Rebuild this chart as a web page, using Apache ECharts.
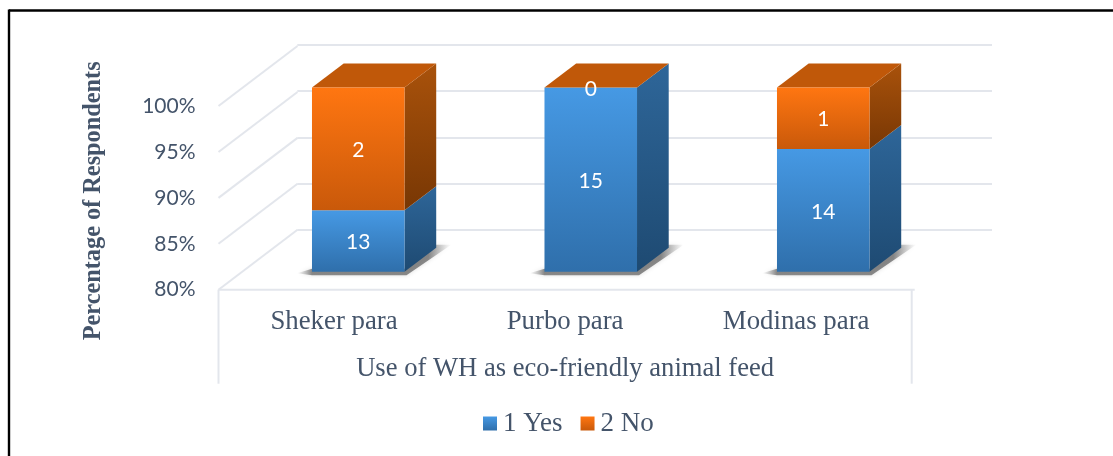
<!DOCTYPE html>
<html><head><meta charset="utf-8">
<style>html,body{margin:0;padding:0;background:#fff}#c{width:1113px;height:456px}</style>
<script src="https://cdn.jsdelivr.net/npm/echarts@6/dist/echarts.min.js"></script>
</head><body><div id="c"></div>
<script>
const categories = ['Sheker para', 'Purbo para', 'Modinas para'];
const yesCounts = [13, 15, 14];
const noCounts = [2, 0, 1];
const axisTicks = [80, 85, 90, 95, 100];
const xAxisTitle = 'Use of WH as eco-friendly animal feed';
const yAxisTitle = 'Percentage of Respondents';

const textColor = '#44546a', gridColor = '#e3e6ec';
const DX = 31.7, DY = 24, BAR = 0.398;
const lin = (a, b, x2, y2) => ({type: 'linear', x: 0, y: 0, x2: x2 || 0, y2: y2 === undefined ? 1 : y2,
  colorStops: [{offset: 0, color: a}, {offset: 1, color: b}]});
const blue = {front: lin('#4699e4', '#2f6fab'), side: lin('#2e6699', '#1e4a72'), top: '#2e6699'};
const orange = {front: lin('#ff7611', '#c9590a'), side: lin('#a9520b', '#783704'), top: '#c05809'};

const pct = (n, i) => n / (yesCounts[i] + noCounts[i]) * 100;
const yesData = categories.map((c, i) => [i, 0, pct(yesCounts[i], i), yesCounts[i]]);
const noData = categories.map((c, i) => [i, pct(yesCounts[i], i), 100, noCounts[i]]);

function poly(points, fill, extra) {
  return Object.assign({type: 'polygon', shape: {points}, style: {fill}}, extra || {});
}
function barItem(palette, drawTop, drawShadow) {
  return function (params, api) {
    const i = api.value(0), cs = params.coordSys;
    const w = api.size([1, 0])[0] * BAR, cx = api.coord([i, 80])[0];
    const x0 = cx - w / 2, x1 = cx + w / 2;
    const floor = cs.y + cs.height;
    const y0 = Math.min(api.coord([i, Math.max(api.value(1), 80)])[1], floor);
    const y1 = api.coord([i, api.value(2)])[1];
    const kids = [];
    if (drawShadow) {
      const span = w + DX + 30;
      const shade = 'rgba(70,70,70,0.6)', clear = 'rgba(120,120,120,0)';
      const fade = {type: 'linear', x: 0, y: 0, x2: 1, y2: 0, colorStops: [
        {offset: 0, color: clear}, {offset: 15 / span, color: shade},
        {offset: (15 + w + DX - 8) / span, color: shade}, {offset: 1, color: clear}]};
      kids.push({type: 'polygon',
        shape: {points: [[x0 - 15, y0 + 1.5], [x0, y0 + 3.5], [x1 + 2, y0 + 3.5], [x1 + DX + 15, y0 - DY - 3],
          [x1 + DX, y0 - DY - 3], [x1, y0 - 3], [x0, y0 - 3]]},
        style: {fill: fade, shadowBlur: 4, shadowColor: 'rgba(110,110,110,0.4)'}});
    }
    kids.push(poly([[x1, y0], [x1 + DX, y0 - DY], [x1 + DX, y1 - DY], [x1, y1]], palette.side));
    if (drawTop) kids.push(poly([[x0, y1], [x0 + DX, y1 - DY], [x1 + DX, y1 - DY], [x1, y1]], palette.top));
    kids.push({type: 'rect', shape: {x: x0, y: y1, width: w, height: y0 - y1}, style: {fill: palette.front}});
    kids.push({type: 'text', style: {text: String(api.value(3)), x: cx, y: (y0 + y1) / 2 + 1.5, align: 'center', verticalAlign: 'middle',
      fill: '#fff', font: '21px Lato'}});
    return {type: 'group', children: kids};
  };
}
function wallItem(params, api) {
  const cs = params.coordSys, v = api.value(0), y = api.coord([0, v])[1], x = cs.x;
  return {type: 'group', children: [{type: 'line', shape: {x1: x, y1: y, x2: x + 79, y2: y - 60}, style: {stroke: gridColor, lineWidth: 2}}]};
}
function tableItem(params) {
  const cs = params.coordSys, b = cs.y + cs.height, s = {stroke: gridColor, lineWidth: 2};
  return {type: 'group', children: [
    {type: 'line', shape: {x1: cs.x, y1: b, x2: cs.x + cs.width + 3, y2: b}, style: s},
    {type: 'line', shape: {x1: cs.x, y1: b, x2: cs.x, y2: b + 94}, style: s},
    {type: 'line', shape: {x1: cs.x + cs.width, y1: b, x2: cs.x + cs.width, y2: b + 94}, style: s}
  ]};
}
const chart = echarts.init(document.getElementById('c'), null, {renderer: 'canvas'});
const noAxis = {show: false};
chart.setOption({
  animation: false,
  backgroundColor: '#fff',
  textStyle: {fontFamily: 'Liberation Serif'},
  graphic: [
    {type: 'line', silent: true, shape: {x1: 9, y1: 10.5, x2: 1113, y2: 10.5}, style: {stroke: '#000', lineWidth: 2.4}},
    {type: 'line', silent: true, shape: {x1: 9, y1: 9.5, x2: 9, y2: 456}, style: {stroke: '#000', lineWidth: 2.4}}
  ],
  grid: [
    {left: 218.5, top: 106, width: 693.2, height: 183.7},
    {left: 242, top: 87.5, width: 697.5, height: 184.2},
    {left: 297.3, top: 45, width: 694.7, height: 184.7}
  ],
  legend: {
    left: 483, top: 410, padding: 0, itemWidth: 14, itemHeight: 14, itemGap: 18, icon: 'rect',
    data: ['1 Yes', '2 No'],
    textStyle: {fontFamily: 'Liberation Serif', fontSize: 27, color: textColor, padding: [7, 0, 0, 1]}
  },
  xAxis: [
    {type: 'category', gridIndex: 0, data: categories, axisLine: noAxis, axisTick: noAxis,
      axisLabel: {fontFamily: 'Liberation Serif', fontSize: 26.8, color: textColor, margin: 19, interval: 0},
      name: xAxisTitle, nameLocation: 'middle', nameGap: 66,
      nameTextStyle: {fontFamily: 'Liberation Serif', fontSize: 26.6, color: textColor}},
    {type: 'category', gridIndex: 1, data: categories, show: false},
    {type: 'category', gridIndex: 2, data: categories, show: false}
  ],
  yAxis: [
    {type: 'value', gridIndex: 0, min: 80, max: 100, interval: 5, axisLine: noAxis, axisTick: noAxis, splitLine: noAxis,
      axisLabel: {fontFamily: 'Lato', fontSize: 21, color: textColor, margin: 23, formatter: '{value}%', padding: [4, 0, 0, 0]},
      name: yAxisTitle, nameLocation: 'middle', nameGap: 113, nameRotate: 90,
      nameTextStyle: {fontFamily: 'Liberation Serif', fontSize: 24.3, fontWeight: 'bold', color: textColor, padding: [0, 6, 0, 0]}},
    {type: 'value', gridIndex: 1, min: 80, max: 100, interval: 5, show: false, splitLine: noAxis},
    {type: 'value', gridIndex: 2, min: 80, max: 100, interval: 5, axisLine: noAxis, axisTick: noAxis, axisLabel: noAxis,
      splitLine: {show: true, lineStyle: {color: gridColor, width: 2}}}
  ],
  series: [
    {type: 'custom', name: 'walls', xAxisIndex: 0, yAxisIndex: 0, silent: true, clip: false, z: 1,
      data: axisTicks.map(v => [v]), encode: {y: 0}, renderItem: wallItem},
    {type: 'custom', name: 'table', xAxisIndex: 0, yAxisIndex: 0, silent: true, clip: false, z: 1,
      data: [[80]], encode: {y: 0}, renderItem: tableItem},
    {type: 'line', name: 'back', xAxisIndex: 2, yAxisIndex: 2, data: [], silent: true},
    {type: 'custom', name: '1 Yes', xAxisIndex: 1, yAxisIndex: 1, clip: false, z: 3,
      itemStyle: {color: blue.front}, data: yesData, encode: {x: 0, y: [1, 2]},
      renderItem: barItem(blue, false, true)},
    {type: 'custom', name: '2 No', xAxisIndex: 1, yAxisIndex: 1, clip: false, z: 4,
      itemStyle: {color: orange.front}, data: noData, encode: {x: 0, y: [1, 2]},
      renderItem: barItem(orange, true, false)}
  ]
});
</script></body></html>
